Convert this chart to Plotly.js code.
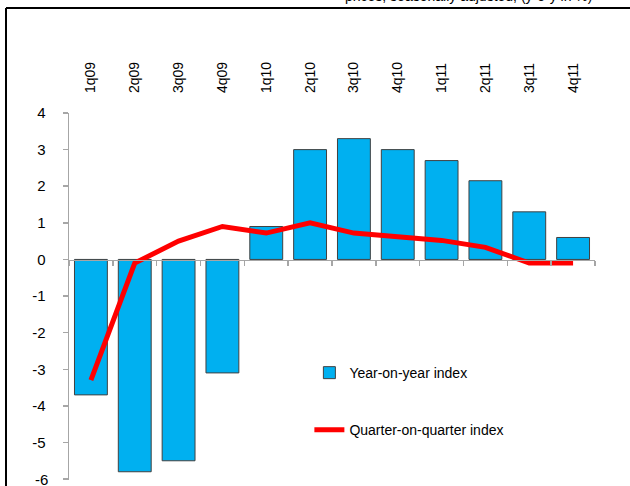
<!DOCTYPE html>
<html>
<head>
<meta charset="utf-8">
<script src="https://cdn.plot.ly/plotly-3.0.1.min.js"></script>
<style>html,body{margin:0;padding:0;background:#fff;}#chart{width:630px;height:486px;}</style>
</head>
<body>
<div id="chart"></div>
<script>
var quarters = ["1q09","2q09","3q09","4q09","1q10","2q10","3q10","4q10","1q11","2q11","3q11","4q11"];
var yearOnYear = [-3.7, -5.8, -5.5, -3.1, 0.9, 3.0, 3.3, 3.0, 2.7, 2.15, 1.3, 0.6];
var quarterOnQuarter = [-3.3, -0.1, 0.5, 0.9, 0.72, 1.0, 0.72, 0.62, 0.52, 0.33, -0.1, -0.1];
var yTicks = [-6, -5, -4, -3, -2, -1, 0, 1, 2, 3, 4];
var yMin = -6;

var FONT = "Liberation Sans, Arial, sans-serif";
var AX = "#a6a6a6";

var traces = [
  {
    type: "bar", x: quarters, y: yearOnYear, name: "Year-on-year index",
    marker: {color: "#00B0F0", line: {color: "#404040", width: 1}},
    legendgroup: "a", hoverinfo: "x+y"
  },
  {
    type: "scatter", mode: "lines", x: quarters, y: quarterOnQuarter, name: "Quarter-on-quarter index",
    line: {color: "#FF0000", width: 5}, legendgroup: "b", hoverinfo: "x+y"
  },
  {
    type: "scatter", mode: "markers", x: quarters, y: quarters.map(function(){return null;}),
    xaxis: "x2", yaxis: "y", showlegend: false, hoverinfo: "skip", marker: {opacity: 0}
  }
];

var layout = {
  width: 630, height: 486,
  margin: {l: 69, r: 35, t: 113, b: 6},
  paper_bgcolor: "#ffffff", plot_bgcolor: "#ffffff",
  font: {family: FONT, size: 14, color: "#000"},
  bargap: 0.25,
  showlegend: true,
  legend: {
    x: 0.457, y: 0.335, xanchor: "left", yanchor: "top",
    bgcolor: "rgba(0,0,0,0)", font: {family: FONT, size: 14, color: "#000"},
    traceorder: "grouped", tracegroupgap: 36
  },
  xaxis: {
    type: "category", categoryarray: quarters, categoryorder: "array",
    range: [-0.5, 11.5], anchor: "free", position: 0.6,
    showline: true, linecolor: AX, linewidth: 1.5,
    ticks: "outside", tickson: "boundaries", ticklen: 5, tickcolor: AX, tickwidth: 1.5,
    showticklabels: false, showgrid: false, zeroline: false, fixedrange: true
  },
  xaxis2: {
    type: "category", categoryarray: quarters, categoryorder: "array",
    range: [-0.5, 11.5], overlaying: "x", side: "top", anchor: "y",
    showline: false, ticks: "", tickangle: -90, ticklabelstandoff: 19,
    tickfont: {family: FONT, size: 14, color: "#000"},
    showgrid: false, zeroline: false, fixedrange: true
  },
  yaxis: {
    range: [-6.025, 4], tickvals: yTicks, ticktext: yTicks.map(function(v){return v === yMin ? "" : String(v);}),
    showline: true, linecolor: AX, linewidth: 1.5,
    ticks: "outside", ticklen: 5, tickcolor: AX, tickwidth: 1.5, ticklabelstandoff: 14,
    tickfont: {family: FONT, size: 15, color: "#000"},
    showgrid: false, zeroline: false, fixedrange: true
  },
  shapes: [
    {type: "line", xref: "paper", yref: "paper", x0: (6 - 69) / 526, x1: (632 - 69) / 526,
     y0: (480 - 8) / 367, y1: (480 - 8) / 367, line: {color: "#000", width: 2}},
    {type: "line", xref: "paper", yref: "paper", x0: (6 - 69) / 526, x1: (6 - 69) / 526,
     y0: (480 - 8) / 367, y1: (480 - 490) / 367, line: {color: "#000", width: 2}}
  ],
  annotations: [
    {text: "prices, seasonally adjusted, (y-o-y in %)", xref: "paper", yref: "paper",
     x: (594 - 69) / 526, y: (480 - 6) / 367, xanchor: "right", yanchor: "bottom",
     showarrow: false, font: {family: FONT, size: 14, color: "#000"}},
    {text: String(yMin), xref: "paper", yref: "y", x: (50 - 69) / 526, y: yMin,
     xanchor: "right", yanchor: "middle", showarrow: false,
     font: {family: FONT, size: 15, color: "#000"}}
  ]
};

Plotly.newPlot("chart", traces, layout, {displayModeBar: false, staticPlot: true});
</script>
</body>
</html>
